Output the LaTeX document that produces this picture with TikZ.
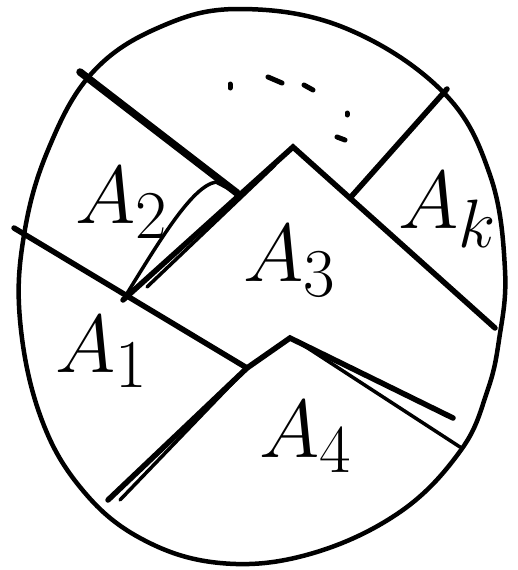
\documentclass[tikz,border=0pt]{standalone}
\usepackage{tikz}
\usetikzlibrary{positioning}
\newcommand{\piecelabel}[1]{\scalebox{3.3}{\Huge$#1$}}

\begin{document}
\begin{tikzpicture}[
    x=1pt, y=-1pt,
    rim/.style={line width=4.5pt, line join=round},
    cut/.style={line width=5.5pt, line cap=round},
    heavycut/.style={line width=7.5pt, line cap=round},
    trace/.style={line width=3.5pt, line cap=round},
    dotmark/.style={line width=5pt, line cap=round},
    part/.style={inner sep=0pt},
]
\useasboundingbox (0,0) rectangle (518,570);

% outline of the whole set
\draw[rim] plot[smooth cycle, tension=0.65] coordinates {
    (240,9) (345,28) (443,92) (490,175) (505,270) (499,340) (487,392)
    (461,450) (400,512) (310,554) (220,563) (140,538) (80,487) (40,415)
    (20,320) (24,235) (48,150) (92,73) (160,27)};

% corners of the pieces
\coordinate (topleft)  at (80,72);
\coordinate (notch)    at (237,193);
\coordinate (leftend)  at (14,228);
\coordinate (midcross) at (247,368);
\coordinate (topright) at (447,89);
\coordinate (rightin)  at (350,198);
\coordinate (base3)    at (123,300);
\coordinate (peak3)    at (293,147);
\coordinate (right3)   at (495,328);
\coordinate (base4)    at (108,500);
\coordinate (peak4)    at (290,338);
\coordinate (right4)   at (453,418);

% cuts
\draw[heavycut] (topleft) -- (notch);
\draw[cut] (leftend) -- (midcross);
\draw[cut] (topright) -- (rightin);
\draw[cut] (base3) -- (peak3) -- (right3);
\draw[trace] (base3) .. controls (160,240) and (192,186) .. (216,182) -- (notch);
\draw[trace] (147,287) -- (275,165);
\draw[cut] (base4) -- (midcross) -- (peak4) -- (right4);
\draw[trace] (120,500) -- (midcross);
\draw[trace] (peak4) -- (300,343) -- (460,447);

% the dots
\draw[dotmark] (230,84) -- (230,88);
\draw[dotmark] (268,77) -- (282,83);
\draw[dotmark] (304,85) -- (313,90);
\draw[dotmark] (347,113) -- (347,115);
\draw[dotmark] (337,137) -- (345,140);

% labels
\node[part] (a2) at (122,203) {\piecelabel{A_2}};
\node[part] (a1) at (102,352) {\piecelabel{A_1}};
\node[part] (a3) at (290,261) {\piecelabel{A_3}};
\node[part] (ak) at (448,210) {\piecelabel{A_k}};
\node[part] (a4) at (306,437) {\piecelabel{A_4}};
\end{tikzpicture}
\end{document}
